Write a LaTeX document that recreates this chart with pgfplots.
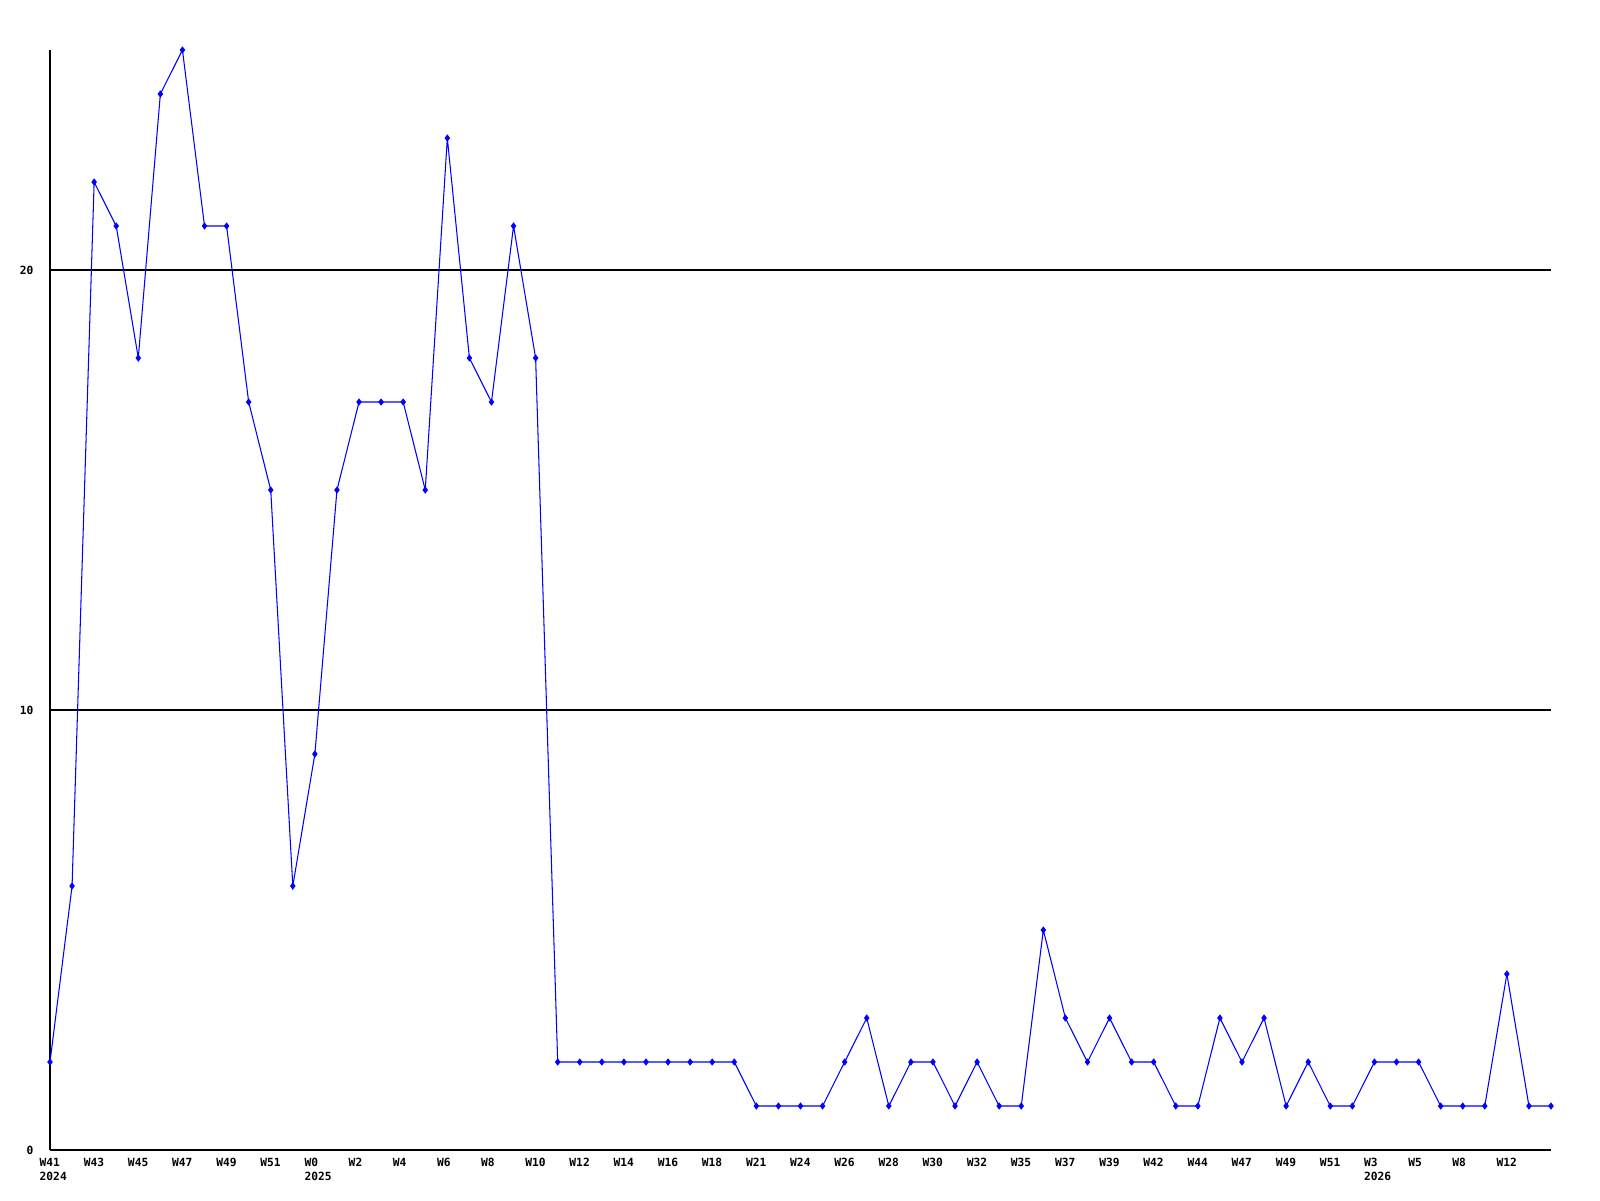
\documentclass[border=0pt]{standalone}
\usepackage{fontspec}
\setmainfont{DejaVu Sans Mono}
\setmonofont{DejaVu Sans Mono}
\usepackage{pgfplots}
\pgfplotsset{compat=1.18}
\begin{document}
\begin{tikzpicture}
\path[use as bounding box] (-5mm,-5mm) rectangle (155mm,115mm);
\begin{axis}[
  at={(0,0)}, anchor=south west,
  scale only axis,
  width=150.1mm, height=110mm,
  xmin=0, xmax=68, ymin=0, ymax=25,
  axis lines=left,
  axis line style={-, black, line width=0.3pt},
  ytick={0,10,20},
  ymajorgrids,
  grid style={black, line width=0.3pt},
  xtick={0,2,...,66},
  xticklabels={{W41\\2024},W43,W45,W47,W49,W51,{W0\\2025},W2,W4,W6,W8,W10,W12,W14,W16,W18,W21,W24,W26,W28,W30,W32,W35,W37,W39,W42,W44,W47,W49,W51,{W3\\2026},W5,W8,W12},
  major tick length=0pt,
  tick style={draw=none},
  /pgf/number format/assume math mode=true,
  xticklabel style={anchor=north west, align=left, inner sep=0pt, xshift=-1.1mm, yshift=-0.75mm, font=\fontsize{3.2}{3.9}\selectfont\bfseries},
  yticklabel style={anchor=east, inner sep=0pt, xshift=-1.6mm, font=\fontsize{3.2}{4}\selectfont\bfseries},
  clip=false,
]
\addplot[color={rgb,255:red,0;green,0;blue,255}, line width=0.3pt, mark=diamond*, mark size=0.8pt] coordinates {
(0,2)(1,6)(2,22)(3,21)(4,18)(5,24)(6,25)(7,21)(8,21)(9,17)(10,15)(11,6)(12,9)(13,15)(14,17)(15,17)(16,17)(17,15)(18,23)(19,18)(20,17)(21,21)(22,18)(23,2)
(24,2)(25,2)(26,2)(27,2)(28,2)(29,2)(30,2)(31,2)(32,1)(33,1)(34,1)(35,1)(36,2)(37,3)(38,1)(39,2)(40,2)(41,1)(42,2)(43,1)(44,1)(45,5)(46,3)(47,2)(48,3)(49,2)(50,2)
(51,1)(52,1)(53,3)(54,2)(55,3)(56,1)(57,2)(58,1)(59,1)(60,2)(61,2)(62,2)(63,1)(64,1)(65,1)(66,4)(67,1)(68,1)
};
\end{axis}
\end{tikzpicture}
\end{document}
